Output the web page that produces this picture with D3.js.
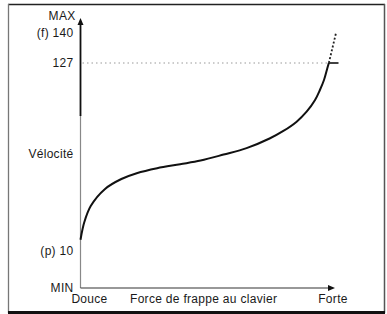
<!DOCTYPE html>
<html>
<head>
<meta charset="utf-8">
<script src="https://cdn.jsdelivr.net/npm/d3@7"></script>
<style>
  html, body { margin: 0; padding: 0; background: #fff; }
  svg text { font-family: "Liberation Sans", Arial, sans-serif; font-size: 12px; fill: #1a1a1a; letter-spacing: 0.3px; }
</style>
</head>
<body>
<svg id="chart" width="387" height="314"></svg>
<script>
// ---- data ----
// keyboard strike force, 0 = douce .. 100 = forte
const force    = [0, 1.5, 4, 9.5, 16, 22, 30, 39, 47, 56, 65, 74, 79.4, 84.6, 88.5, 91.8, 93.7, 95.3, 96.6, 97.2];
const velocity = [17, 28, 38, 48.5, 54.8, 58.4, 61.5, 64, 66.3, 70, 74, 80, 84.7, 90.5, 96.7, 104, 110.2, 116.4, 123.7, 127];
// dotted continuation above 127
const overForce    = [97.2, 100];
const overVelocity = [127, 140];

const yTickValues = [0, 10, 127, 140];
const yTickLabels = ["MIN", "(p) 10", "127", "(f) 140"];
const xLabels = ["Douce", "Force de frappe au clavier", "Forte"];
const yTitle = "Vélocité";
const topLabel = "MAX";

// ---- scales ----
const svg = d3.select("#chart");
const x = d3.scaleLinear().domain([0, 100]).range([80.5, 336]);
// schematic (not linear) vertical axis, piecewise between the marked values
const y = d3.scaleLinear().domain(yTickValues).range([288, 251, 63, 33]);

// ---- frame ----
svg.append("line").attr("x1", 8).attr("x2", 385).attr("y1", 4.5).attr("y2", 4.5)
   .attr("stroke", "#222").attr("stroke-width", 1.5);
svg.append("line").attr("x1", 8.5).attr("x2", 8.5).attr("y1", 4).attr("y2", 313)
   .attr("stroke", "#777").attr("stroke-width", 1.3);
svg.append("line").attr("x1", 384.5).attr("x2", 384.5).attr("y1", 4).attr("y2", 313)
   .attr("stroke", "#555").attr("stroke-width", 1.5);
svg.append("line").attr("x1", 8).attr("x2", 385).attr("y1", 312.5).attr("y2", 312.5)
   .attr("stroke", "#111").attr("stroke-width", 3);

// ---- 127 reference line ----
svg.append("line")
   .attr("x1", x(0) + 2).attr("x2", x(97.2))
   .attr("y1", y(127)).attr("y2", y(127))
   .attr("stroke", "#999").attr("stroke-width", 1)
   .attr("stroke-dasharray", "1.5,3");
svg.append("line")
   .attr("x1", x(97.2)).attr("x2", x(100) + 2.5)
   .attr("y1", y(127)).attr("y2", y(127))
   .attr("stroke", "#111").attr("stroke-width", 1.6);

// ---- axes ----
const axisTop = 18;
svg.append("line").attr("x1", x(0)).attr("x2", x(0)).attr("y1", y(0)).attr("y2", 115)
   .attr("stroke", "#888").attr("stroke-width", 1.2);
svg.append("line").attr("x1", x(0)).attr("x2", x(0)).attr("y1", 116).attr("y2", axisTop + 4)
   .attr("stroke", "#111").attr("stroke-width", 1.8);
svg.append("path")
   .attr("d", `M${x(0)},${axisTop} l-3,7 l6,0 Z`)
   .attr("fill", "#111");

const xEnd = x(100) - 1;
svg.append("line").attr("x1", x(0)).attr("x2", xEnd - 5).attr("y1", y(0)).attr("y2", y(0))
   .attr("stroke", "#333").attr("stroke-width", 1.2);
svg.append("path")
   .attr("d", `M${xEnd},${y(0)} l-7,-3 l0,6 Z`)
   .attr("fill", "#111");

// ---- curve ----
const line = d3.line()
  .x(d => x(d[0]))
  .y(d => y(d[1]))
  .curve(d3.curveCatmullRom.alpha(0.5));

svg.append("path")
   .datum(d3.zip(force, velocity))
   .attr("d", line)
   .attr("fill", "none")
   .attr("stroke", "#111")
   .attr("stroke-width", 2);

svg.append("path")
   .datum(d3.zip(overForce, overVelocity))
   .attr("d", d3.line().x(d => x(d[0])).y(d => y(d[1])))
   .attr("fill", "none")
   .attr("stroke", "#222")
   .attr("stroke-width", 1.8)
   .attr("stroke-dasharray", "2,2");

// ---- labels ----
svg.selectAll("text.ytick")
   .data(yTickValues)
   .enter().append("text")
   .attr("class", "ytick")
   .attr("x", x(0) - 7)
   .attr("y", d => y(d))
   .attr("dy", "0.35em")
   .attr("text-anchor", "end")
   .text((d, i) => yTickLabels[i]);

svg.append("text")
   .attr("x", x(0) - 5).attr("y", 16).attr("dy", "0.35em")
   .attr("text-anchor", "end")
   .text(topLabel);

svg.append("text")
   .attr("x", x(0) - 7).attr("y", 154).attr("dy", "0.35em")
   .attr("text-anchor", "end")
   .text(yTitle);

const xLabelY = 299;
svg.append("text").attr("x", x(0) + 9).attr("y", xLabelY).attr("dy", "0.35em")
   .attr("text-anchor", "middle").text(xLabels[0]);
svg.append("text").attr("x", 130).attr("y", xLabelY).attr("dy", "0.35em")
   .attr("text-anchor", "start").text(xLabels[1]);
svg.append("text").attr("x", x(100) - 3).attr("y", xLabelY).attr("dy", "0.35em")
   .attr("text-anchor", "middle").text(xLabels[2]);
</script>
</body>
</html>
